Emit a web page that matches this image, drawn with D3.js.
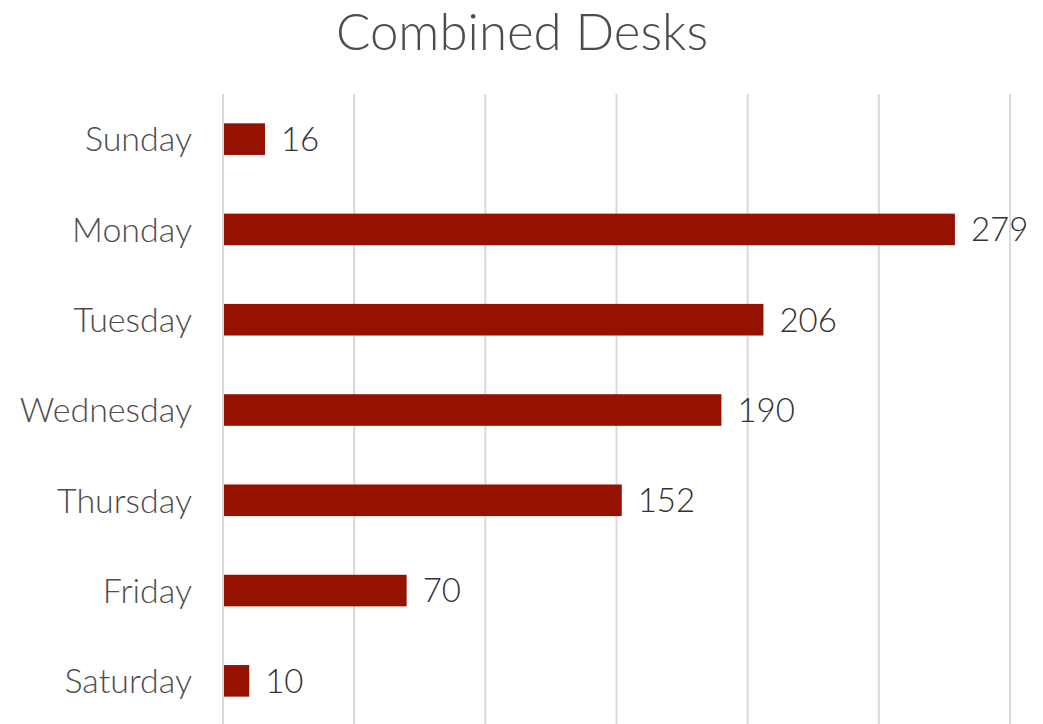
<!DOCTYPE html>
<html>
<head>
<meta charset="utf-8">
<script src="https://cdn.jsdelivr.net/npm/d3@7/dist/d3.min.js"></script>
<style>
  html, body { margin: 0; padding: 0; background: #fff; }
  svg { display: block; font-family: "Avenir Next", Lato, "Noto Sans", sans-serif; }
</style>
</head>
<body>
<svg id="chart" width="1043" height="724"></svg>
<script>
// data
var days = ["Sunday", "Monday", "Tuesday", "Wednesday", "Thursday", "Friday", "Saturday"];
var desks = [16, 279, 206, 190, 152, 70, 10];
var xTicks = [0, 50, 100, 150, 200, 250, 300];

var svg = d3.select("#chart");
var width = +svg.attr("width");
var height = +svg.attr("height");

var margin = { top: 94, right: 33, bottom: -2, left: 223 };

var x = d3.scaleLinear()
  .domain([0, 300])
  .range([margin.left, width - margin.right]);

var y = d3.scaleBand()
  .domain(days)
  .range([margin.top, height - margin.bottom])
  .paddingInner(0.65)
  .paddingOuter(0.325);

// gridlines
svg.append("g")
  .selectAll("line")
  .data(xTicks)
  .enter()
  .append("line")
  .attr("x1", function (d) { return x(d); })
  .attr("x2", function (d) { return x(d); })
  .attr("y1", margin.top)
  .attr("y2", height)
  .style("stroke", "#d9d9d9")
  .style("stroke-width", 2);

// bars
svg.append("g")
  .selectAll("rect")
  .data(desks)
  .enter()
  .append("rect")
  .attr("x", x(0) + 1)
  .attr("y", function (d, i) { return y(days[i]); })
  .attr("width", function (d) { return x(d) - x(0) - 1; })
  .attr("height", y.bandwidth())
  .style("fill", "#951200");

// value labels
svg.append("g")
  .selectAll("text")
  .data(desks)
  .enter()
  .append("text")
  .attr("x", function (d) { return x(d) + 16; })
  .attr("y", function (d, i) { return y(days[i]) + y.bandwidth() / 2; })
  .attr("dy", "0.36em")
  .style("font-size", "33px")
  .style("font-weight", 300)
  .style("fill", "#333333")
  .text(function (d) { return d; });

// category labels
svg.append("g")
  .selectAll("text")
  .data(days)
  .enter()
  .append("text")
  .attr("x", 192)
  .attr("y", function (d) { return y(d) + y.bandwidth() / 2; })
  .attr("dy", "0.36em")
  .style("text-anchor", "end")
  .style("font-size", "34px")
  .style("font-weight", 300)
  .style("fill", "#4d4d4d")
  .text(function (d) { return d; });

// title
svg.append("text")
  .attr("x", 522)
  .attr("y", 50)
  .style("text-anchor", "middle")
  .style("font-size", "51px")
  .style("font-weight", 300)
  .style("fill", "#4d4d4d")
  .text("Combined Desks");
</script>
</body>
</html>
